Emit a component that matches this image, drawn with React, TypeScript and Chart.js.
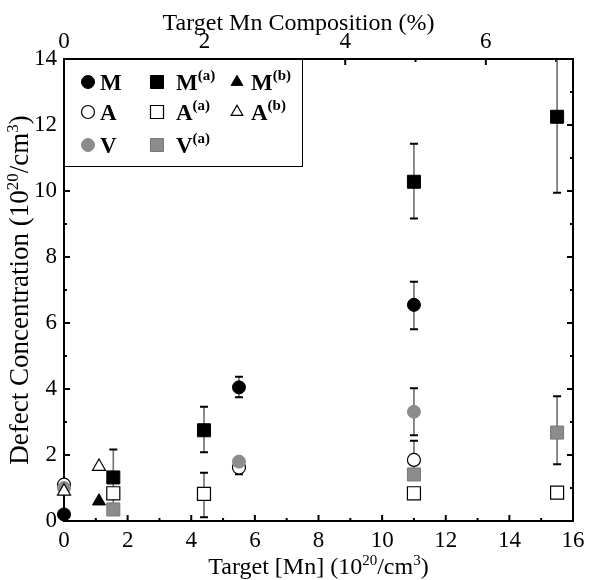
import React, { useEffect, useRef } from 'react';
import { Chart, registerables } from 'chart.js';

Chart.register(...registerables);

const FONT = "'Liberation Serif', 'Times New Roman', serif";

// 1 % Mn (Ga-site substitution) = 2.21 x 10^20 cm^-3
const CONC_PER_PERCENT = 2.21;

const X_TICKS = [0, 2, 4, 6, 8, 10, 12, 14, 16];
const Y_TICKS = [0, 2, 4, 6, 8, 10, 12, 14];
const TOP_TICKS = [0, 2, 4, 6];

// M (filled circle)
const M_X = [0, 5.5, 11];
const M_Y = [0.2, 4.05, 6.55];
const M_LO = [null, 3.75, 5.81];
const M_HI = [null, 4.37, 7.25];

// M(a) (filled square)
const MA_X = [1.55, 4.4, 11, 15.5];
const MA_Y = [1.32, 2.75, 10.28, 12.25];
const MA_LO = [0.5, 2.08, 9.17, 9.95];
const MA_HI = [2.17, 3.46, 11.43, 14];

// M(b) (filled triangle)
const MB_X = [1.1];
const MB_Y = [0.6];

// A (open circle)
const A_X = [0, 5.5, 11];
const A_Y = [1.1, 1.62, 1.85];
const A_LO = [null, 1.42, 1.27];
const A_HI = [null, 1.82, 2.43];

// A(a) (open square)
const AA_X = [1.55, 4.4, 11, 15.5];
const AA_Y = [0.84, 0.82, 0.84, 0.86];
const AA_LO = [null, 0.11, null, null];
const AA_HI = [null, 1.46, null, null];

// A(b) (open triangle)
const AB_X = [0, 1.1];
const AB_Y = [0.9, 1.65];

// V (grey circle)
const V_X = [0, 5.5, 11];
const V_Y = [1.0, 1.8, 3.31];
const V_LO = [null, null, 2.6];
const V_HI = [null, null, 4.02];

// V(a) (grey square)
const VA_X = [1.55, 11, 15.5];
const VA_Y = [0.35, 1.41, 2.68];
const VA_LO = [null, null, 1.72];
const VA_HI = [null, null, 3.78];

const GREY = '#8c8c8c';

const pts = (xs: number[], ys: number[]) => xs.map((x, i) => ({ x, y: ys[i] }));

type Style = { shape: string; fill: string; stroke: string; bw: number; r: number };
const S_M: Style = { shape: 'circle', fill: '#000', stroke: '#000', bw: 1, r: 6.5 };
const S_MA: Style = { shape: 'rect', fill: '#000', stroke: '#000', bw: 1, r: 9.2 };
const S_MB: Style = { shape: 'triangle', fill: '#000', stroke: '#000', bw: 1, r: 7.5 };
const S_A: Style = { shape: 'circle', fill: '#fff', stroke: '#000', bw: 1.2, r: 6.5 };
const S_AA: Style = { shape: 'rect', fill: '#fff', stroke: '#000', bw: 1.2, r: 9.2 };
const S_AB: Style = { shape: 'triangle', fill: '#fff', stroke: '#000', bw: 1.2, r: 7.5 };
const S_V: Style = { shape: 'circle', fill: GREY, stroke: GREY, bw: 1, r: 6.5 };
const S_VA: Style = { shape: 'rect', fill: GREY, stroke: '#777', bw: 1, r: 9.2 };

function ds(label: string, sup: string, xs: number[], ys: number[], st: Style, order: number, lo?: (number | null)[], hi?: (number | null)[]) {
  return {
    label,
    sup,
    data: pts(xs, ys),
    pointStyle: st.shape,
    pointRadius: st.r,
    pointHoverRadius: st.r,
    pointBackgroundColor: st.fill,
    pointBorderColor: st.stroke,
    pointBorderWidth: st.bw,
    backgroundColor: st.fill,
    borderColor: st.stroke,
    showLine: false,
    clip: false,
    order,
    errLo: lo,
    errHi: hi,
    st,
  };
}

function drawShape(ctx: CanvasRenderingContext2D, st: Style, x: number, y: number, scale = 1) {
  ctx.save();
  ctx.fillStyle = st.fill;
  ctx.strokeStyle = st.stroke;
  ctx.lineWidth = st.bw;
  ctx.beginPath();
  const r = st.r * scale;
  if (st.shape === 'circle') {
    ctx.arc(x, y, r, 0, Math.PI * 2);
  } else if (st.shape === 'rect') {
    const h = r * Math.SQRT1_2;
    ctx.rect(x - h, y - h, 2 * h, 2 * h);
  } else {
    let rad = 0;
    for (let k = 0; k < 3; k++) {
      const px = x + Math.sin(rad) * r;
      const py = y - Math.cos(rad) * r;
      if (k === 0) ctx.moveTo(px, py);
      else ctx.lineTo(px, py);
      rad += (2 * Math.PI) / 3;
    }
    ctx.closePath();
  }
  ctx.fill();
  ctx.stroke();
  ctx.restore();
}

type Part = { t: string; sup?: boolean };
function richWidth(ctx: CanvasRenderingContext2D, parts: Part[], size: number, weight: string, supRatio: number) {
  let w = 0;
  for (const p of parts) {
    ctx.font = `${weight} ${p.sup ? Math.round(size * supRatio) : size}px ${FONT}`;
    w += ctx.measureText(p.t).width;
  }
  return w;
}
function drawRich(ctx: CanvasRenderingContext2D, parts: Part[], x: number, y: number, size: number, center: boolean, weight = 'normal', supRatio = 0.62, supRise = 0.36) {
  const w = richWidth(ctx, parts, size, weight, supRatio);
  let cx = center ? x - w / 2 : x;
  ctx.textAlign = 'left';
  ctx.textBaseline = 'alphabetic';
  for (const p of parts) {
    ctx.font = `${weight} ${p.sup ? Math.round(size * supRatio) : size}px ${FONT}`;
    ctx.fillText(p.t, cx, p.sup ? y - size * supRise : y);
    cx += ctx.measureText(p.t).width;
  }
}

const X_TITLE: Part[] = [{ t: 'Target [Mn] (10' }, { t: '20', sup: true }, { t: '/cm' }, { t: '3', sup: true }, { t: ')' }];
const Y_TITLE: Part[] = [{ t: 'Defect Concentration (10' }, { t: '20', sup: true }, { t: '/cm' }, { t: '3', sup: true }, { t: ')' }];
const TOP_TITLE: Part[] = [{ t: 'Target Mn Composition (%)' }];

const framePlugin = {
  id: 'frameTicks',
  beforeDatasetsDraw(chart: any) {
    const { ctx, chartArea: a, scales } = chart;
    const ys = scales.y, xs = scales.x, xt = scales.x2;
    ctx.save();
    ctx.strokeStyle = '#000';
    ctx.lineWidth = 2;
    ctx.strokeRect(a.left, a.top, a.right - a.left, a.bottom - a.top);
    ctx.lineWidth = 2;
    ctx.beginPath();
    for (let v = 0; v <= 14; v++) {
      const p = ys.getPixelForValue(v);
      const len = v % 2 === 0 ? 6 : 3;
      ctx.moveTo(a.left, p); ctx.lineTo(a.left + len, p);
      ctx.moveTo(a.right, p); ctx.lineTo(a.right - len, p);
    }
    for (let v = 0; v <= 16; v++) {
      const p = xs.getPixelForValue(v);
      const len = v % 2 === 0 ? 6 : 3;
      ctx.moveTo(p, a.bottom); ctx.lineTo(p, a.bottom - len);
    }
    for (let v = 0; v <= 7; v++) {
      const p = xt.getPixelForValue(v);
      const len = v % 2 === 0 ? 6 : 3;
      ctx.moveTo(p, a.top); ctx.lineTo(p, a.top + len);
    }
    ctx.stroke();

    // error bars
    chart.data.datasets.forEach((d: any, i: number) => {
      if (!d.errLo) return;
      const meta = chart.getDatasetMeta(i);
      meta.data.forEach((el: any, j: number) => {
        const lo = d.errLo[j], hi = d.errHi[j];
        if (lo == null || hi == null) return;
        const x = el.x;
        const y1 = ys.getPixelForValue(lo), y2 = ys.getPixelForValue(hi);
        ctx.strokeStyle = '#6e6e6e';
        ctx.lineWidth = 1.6;
        ctx.beginPath();
        ctx.moveTo(x, y1); ctx.lineTo(x, y2);
        ctx.stroke();
        ctx.strokeStyle = '#000';
        ctx.lineWidth = 2;
        ctx.beginPath();
        ctx.moveTo(x - 4, y1); ctx.lineTo(x + 4, y1);
        ctx.moveTo(x - 4, y2); ctx.lineTo(x + 4, y2);
        ctx.stroke();
      });
    });
    ctx.restore();
  },
  afterDraw(chart: any) {
    const { ctx, chartArea: a } = chart;
    ctx.save();
    ctx.fillStyle = '#000';
    const cx = (a.left + a.right) / 2;
    drawRich(ctx, X_TITLE, cx, 574, 24, true);
    drawRich(ctx, TOP_TITLE, cx - 20, 30, 24, true);
    ctx.save();
    ctx.translate(28, (a.top + a.bottom) / 2);
    ctx.rotate(-Math.PI / 2);
    drawRich(ctx, Y_TITLE, 0, 0, 27, true);
    ctx.restore();

    // legend
    const lx = a.left, ly = a.top, lw = 238, lh = 107;
    ctx.fillStyle = '#fff';
    ctx.fillRect(lx, ly, lw, lh);
    ctx.strokeStyle = '#000';
    ctx.lineWidth = 1;
    ctx.strokeRect(lx + 0.5, ly + 0.5, lw, lh);
    const colMark = [24, 93, 173];
    const colText = [36, 112, 187];
    const rowY = [23, 53, 86];
    const grid = [
      [0, 1, 2],
      [3, 4, 5],
      [6, 7, -1],
    ];
    const dsets = chart.data.datasets;
    grid.forEach((row, ri) => {
      row.forEach((di, ci) => {
        if (di < 0) return;
        const d = dsets[di];
        const my = ly + rowY[ri];
        drawShape(ctx, d.st, lx + colMark[ci], my, d.st.shape === 'rect' ? 1 : d.st.shape === 'triangle' ? 0.9 : 1);
        ctx.fillStyle = '#000';
        const parts: Part[] = [{ t: d.label }];
        if (d.sup) parts.push({ t: d.sup, sup: true });
        drawRich(ctx, parts, lx + colText[ci], my + 8, 23, false, 'bold', 0.66, 0.42);
      });
    });
    ctx.restore();
  },
};

export default function App() {
  const ref = useRef<HTMLCanvasElement>(null);
  useEffect(() => {
    if (!ref.current) return;
    const tickFont = { family: FONT, size: 23 };
    const chart = new Chart(ref.current, {
      type: 'scatter',
      data: {
        datasets: [
          ds('M', '', M_X, M_Y, S_M, 3, M_LO, M_HI),
          ds('M', '(a)', MA_X, MA_Y, S_MA, 4, MA_LO, MA_HI),
          ds('M', '(b)', MB_X, MB_Y, S_MB, 0),
          ds('A', '', A_X, A_Y, S_A, 2, A_LO, A_HI),
          ds('A', '(a)', AA_X, AA_Y, S_AA, 4, AA_LO, AA_HI),
          ds('A', '(b)', AB_X, AB_Y, S_AB, 0),
          ds('V', '', V_X, V_Y, S_V, 1, V_LO, V_HI),
          ds('V', '(a)', VA_X, VA_Y, S_VA, 4, VA_LO, VA_HI),
        ] as any,
      },
      options: {
        animation: false,
        responsive: true,
        maintainAspectRatio: false,
        devicePixelRatio: 1,
        layout: { padding: { right: 21, left: 0, top: 0, bottom: 0 } },
        plugins: { legend: { display: false }, tooltip: { enabled: false } },
        scales: {
          x: {
            type: 'linear',
            position: 'bottom',
            min: 0,
            max: 16,
            afterBuildTicks: (s: any) => { s.ticks = X_TICKS.map((v) => ({ value: v })); },
            afterFit: (s: any) => { s.height = 59; },
            grid: { display: false, drawTicks: false },
            border: { display: false },
            ticks: { font: tickFont, color: '#000', padding: 6, maxRotation: 0, autoSkip: false },
          },
          x2: {
            type: 'linear',
            position: 'top',
            min: 0,
            max: 16 / CONC_PER_PERCENT,
            afterBuildTicks: (s: any) => { s.ticks = TOP_TICKS.map((v) => ({ value: v })); },
            afterFit: (s: any) => { s.height = 59; },
            grid: { display: false, drawTicks: false },
            border: { display: false },
            ticks: { font: tickFont, color: '#000', padding: 3, maxRotation: 0, autoSkip: false },
          },
          y: {
            type: 'linear',
            position: 'left',
            min: 0,
            max: 14,
            afterBuildTicks: (s: any) => { s.ticks = Y_TICKS.map((v) => ({ value: v })); },
            afterFit: (s: any) => { s.width = 64; },
            grid: { display: false, drawTicks: false },
            border: { display: false },
            ticks: { font: tickFont, color: '#000', padding: 7, autoSkip: false },
          },
        },
      } as any,
      plugins: [framePlugin],
    });
    return () => chart.destroy();
  }, []);
  return (
    <div style={{ position: 'fixed', left: 0, top: 0, width: 594, height: 580, background: '#fff' }}>
      <canvas ref={ref} />
    </div>
  );
}
